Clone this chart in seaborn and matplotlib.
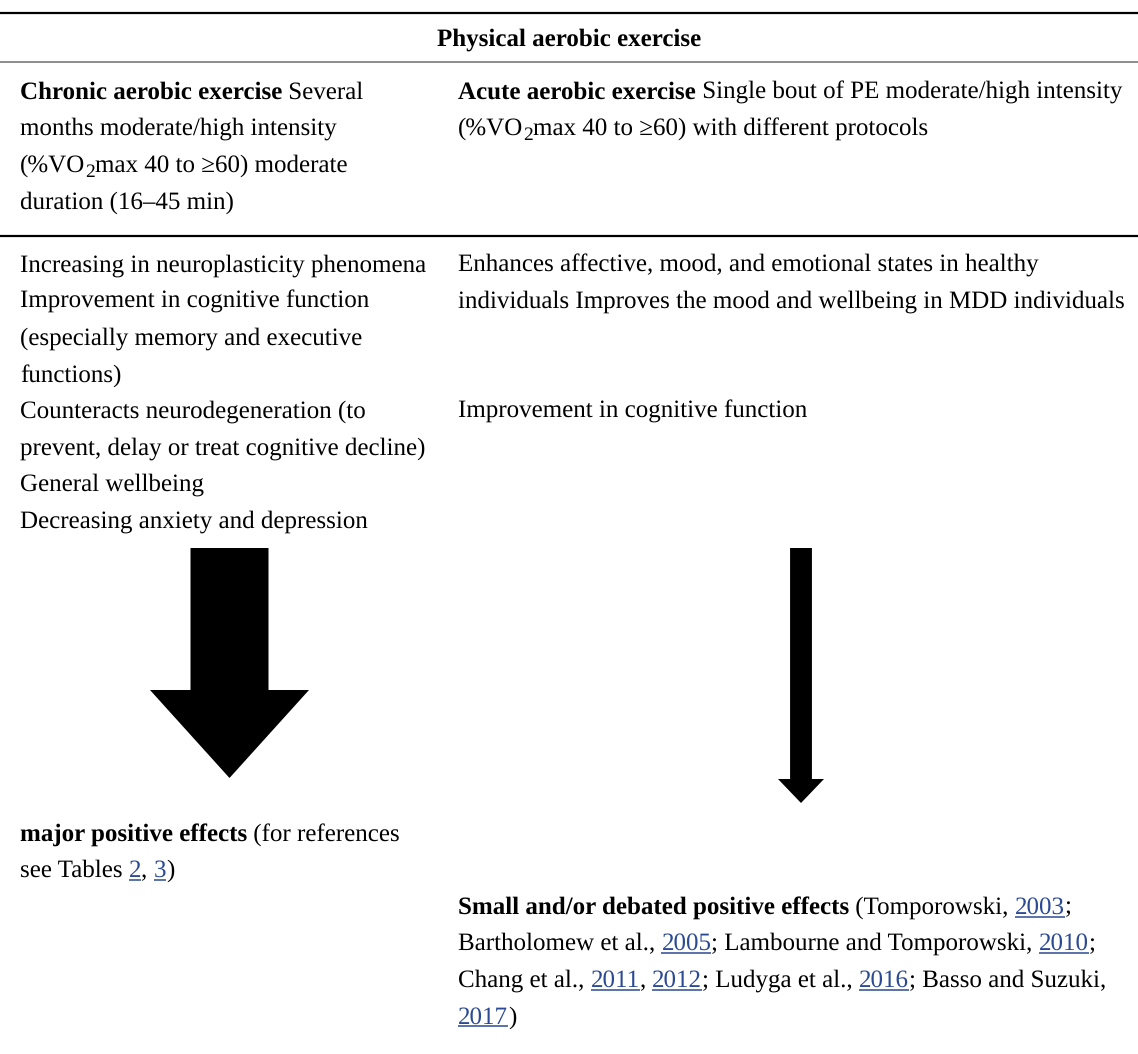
import matplotlib
matplotlib.use("Agg")
import matplotlib.pyplot as plt
import seaborn as sns
from matplotlib.font_manager import FontProperties

# ---------------- data ----------------
header = "Physical aerobic exercise"

chronic_definition = [
    [("Chronic aerobic exercise", "b"), (" Several", "r")],
    [("months moderate/high intensity", "r")],
    [("(%VO", "r"), ("2", "sub"), ("max 40 to \u226560) moderate", "r")],
    [("duration (16\u201345 min)", "r")],
]
acute_definition = [
    [("Acute aerobic exercise", "b"), (" Single bout of PE moderate/high intensity", "r")],
    [("(%VO", "r"), ("2", "sub"), ("max 40 to \u226560) with different protocols", "r")],
]

chronic_effects = [
    "Increasing in neuroplasticity phenomena",
    "Improvement in cognitive function",
    "(especially memory and executive",
    "functions)",
    "Counteracts neurodegeneration (to",
    "prevent, delay or treat cognitive decline)",
    "General wellbeing",
    "Decreasing anxiety and depression",
]
acute_effects = [
    "Enhances affective, mood, and emotional states in healthy",
    "individuals Improves the mood and wellbeing in MDD individuals",
    "",
    "",
    "Improvement in cognitive function",
]

chronic_outcome = [
    [("major positive effects", "b"), (" (for references", "r")],
    [("see Tables ", "r"), ("2", "link"), (", ", "r"), ("3", "link"), (")", "r")],
]
acute_outcome = [
    [("Small and/or debated positive effects", "b"), (" (Tomporowski, ", "r"),
     ("2003", "link"), (";", "r")],
    [("Bartholomew et al., ", "r"), ("2005", "link"),
     ("; Lambourne and Tomporowski, ", "r"), ("2010", "link"), (";", "r")],
    [("Chang et al., ", "r"), ("2011", "link"), (", ", "r"), ("2012", "link"),
     ("; Ludyga et al., ", "r"), ("2016", "link"), ("; Basso and Suzuki,", "r")],
    [("2017", "link"), (")", "r")],
]

effect_categories = ["major", "small"]
effect_strength = [1.0, 0.28]   # relative size of the effect arrows

# ---------------- style ----------------
sns.set_theme(style="white")
plt.rcParams["font.family"] = ["Liberation Serif", "DejaVu Serif"]
plt.rcParams["text.color"] = "black"
plt.rcParams["text.hinting"] = "no_hinting"

W, H, DPI = 1138, 1054, 100
FS = 18.0
LINE = 36.6
LINK_COLOR = "#2c4a94"

fig = plt.figure(figsize=(W / DPI, H / DPI), dpi=DPI)
ax = fig.add_axes([0, 0, 1, 1])
ax.set_xlim(0, W)
ax.set_ylim(H, 0)
ax.axis("off")
renderer = fig.canvas.get_renderer()

_props = {
    "r": FontProperties(family="Liberation Serif", size=FS),
    "b": FontProperties(family="Liberation Serif", weight="bold", size=FS),
    "sub": FontProperties(family="Liberation Serif", size=FS * 0.78),
}


def advance(text, key):
    p = _props[key]
    w1 = renderer.get_text_width_height_descent("|" + text + "|", p, ismath=False)[0]
    w0 = renderer.get_text_width_height_descent("||", p, ismath=False)[0]
    return w1 - w0


def draw_line(x0, y, pieces):
    x = x0
    for text, style in pieces:
        if style == "sub":
            ax.text(x, y + 5, text, fontproperties=_props["sub"], va="baseline",
                    ha="left", color="black")
            x += advance(text, "sub")
            continue
        key = "b" if style == "b" else "r"
        color = LINK_COLOR if style == "link" else "black"
        ax.text(x, y, text, fontproperties=_props[key], va="baseline", ha="left",
                color=color)
        w = advance(text, key)
        if style == "link":
            ax.plot([x, x + w], [y + 3, y + 3], color=LINK_COLOR, lw=1.1,
                    solid_capstyle="butt")
        x += w


def draw_block(x0, y0, lines):
    for i, pieces in enumerate(lines):
        if isinstance(pieces, str):
            if not pieces:
                continue
            pieces = [(pieces, "r")]
        draw_line(x0, y0 + i * LINE, pieces)


# rules
ax.axhline(13, color="black", lw=1.6)
ax.axhline(62, color="#8c8c8c", lw=1.4)
ax.axhline(236, color="black", lw=1.6)

# header
ax.text(W / 2, 45.5, header, fontproperties=_props["b"], ha="center",
        va="baseline", color="black")

LEFT, RIGHT = 20, 458
draw_block(LEFT, 98.5, chronic_definition)
draw_block(RIGHT, 98.5, acute_definition)
draw_block(LEFT, 271.5, chronic_effects)
draw_block(RIGHT, 271.5, acute_effects)
draw_block(LEFT, 840.5, chronic_outcome)
draw_block(RIGHT, 913.5, acute_outcome)

# arrows (size by effect strength)
arrow_cx = {"major": 229.5, "small": 801}
arrow_tip = {"major": 778, "small": 803}
arrow_top = 548
for cat, s in zip(effect_categories, effect_strength):
    cx = arrow_cx[cat]
    shaft = 78 * s
    head = 159 * s if s == 1.0 else 46
    head_len = 88 if s == 1.0 else 24
    tip = arrow_tip[cat]
    base = tip - head_len
    xs = [cx - shaft / 2, cx + shaft / 2, cx + shaft / 2, cx + head / 2, cx,
          cx - head / 2, cx - shaft / 2]
    ys = [arrow_top, arrow_top, base, base, tip, base, base]
    ax.fill(xs, ys, color="black", lw=0)

fig.savefig("out.png", dpi=DPI, facecolor="white")
